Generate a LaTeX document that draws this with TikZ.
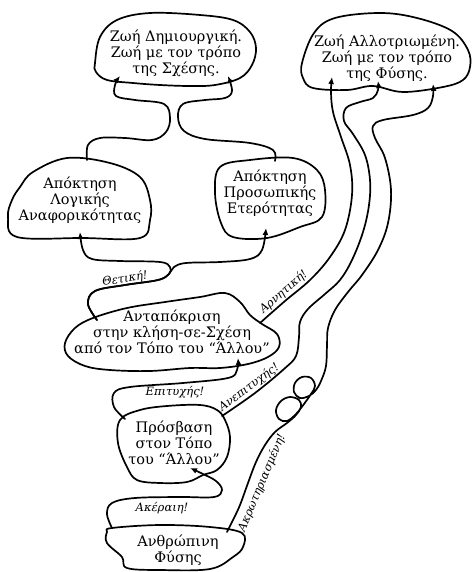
\documentclass[tikz,border=0pt]{standalone}
\usepackage{fontspec}
\setmainfont{DejaVu Serif}
\usetikzlibrary{arrows.meta}
\begin{document}
\begin{tikzpicture}[x=1pt,y=-1pt,line width=1.7pt,line cap=round,line join=round,
  blob/.style={draw,line width=1.7pt},
  txt/.style={align=center,font=\fontsize{14.5}{16}\selectfont,inner sep=0pt},
  lbl/.style={font=\fontsize{11.5}{13}\selectfont\itshape,inner sep=1.5pt},
  conn/.style={draw,line width=1.7pt,-{Latex[length=7pt,width=6pt]}}]
\useasboundingbox (0,0) rectangle (471,572);

% ---------- text nodes ----------
\node[txt] (zd) at (176,53) {Ζωή Δημιουργική.\\Ζωή με τον τρόπο\\της Σχέσης.};
\node[txt] (za) at (387,58) {Ζωή Αλλοτριωμένη.\\Ζωή με τον τρόπο\\της Φύσης.};
\node[txt] (al) at (80,200) {Απόκτηση\\Λογικής\\Αναφορικότητας};
\node[txt] (ap) at (270,193) {Απόκτηση\\Προσωπικής\\Ετερότητας};
\node[txt] (an) at (172,332) {Ανταπόκριση\\στην κλήση-σε-Σχέση\\από τον Τόπο του “Άλλου”};
\node[txt] (pr) at (174,443) {Πρόσβαση\\στον Τόπο\\του “Άλλου”};
\node[txt] (af) at (178,550) {Ανθρώπινη\\Φύσης};

% ---------- blobs ----------
\draw[blob] plot[smooth cycle,tension=0.6] coordinates {(95,63) (100,37) (117,20) (150,13) (200,15) (233,20) (250,32) (256,48) (252,65) (240,78) (215,85) (190,86) (160,85) (133,83) (107,80) (96,72)};
\draw[blob] plot[smooth cycle,tension=0.6] coordinates {(302,63) (314,33) (335,18) (380,13) (417,18) (452,31) (468,50) (470,67) (463,80) (443,87) (403,92) (373,86) (347,90) (313,88) (303,78)};
\draw[blob] plot[smooth cycle,tension=0.6] coordinates {(20,187) (33,172) (67,158) (110,163) (140,177) (150,200) (150,220) (140,238) (83,238) (17,237) (8,217) (12,200)};
\draw[blob] plot[smooth cycle,tension=0.6] coordinates {(220,167) (250,160) (293,158) (317,170) (325,190) (322,217) (300,227) (267,238) (233,237) (221,223) (215,193)};
\draw[blob] plot[smooth cycle,tension=0.6] coordinates {(65,343) (75,328) (93,318) (127,308) (165,302) (200,297) (225,293) (240,302) (250,315) (262,324) (277,334) (279,347) (268,357) (248,364) (220,368) (190,368) (150,371) (110,370) (85,366) (68,356)};
\draw[blob] plot[smooth cycle,tension=0.6] coordinates {(120,420) (140,410) (167,406) (200,405) (217,410) (225,420) (230,437) (227,457) (217,470) (203,475) (187,482) (160,483) (137,480) (127,467) (118,443)};
\draw[blob] plot[smooth cycle,tension=0.6] coordinates {(112,528) (160,525) (210,527) (242,533) (243,547) (233,557) (210,569) (160,570) (127,568) (122,557) (107,543) (107,532)};

% ---------- connector end points ----------
\coordinate (alTop) at (87,160);
\coordinate (apTop) at (275,161);
\coordinate (zdIn1) at (120,76);
\coordinate (zdIn2) at (228,76);
\coordinate (alIn) at (80,232);
\coordinate (apIn) at (266,228);
\coordinate (anOut) at (97,320);
\coordinate (anNeg) at (260,323);
\coordinate (anIn) at (238,358);
\coordinate (prOut) at (125,419);
\coordinate (prFail) at (222,416);
\coordinate (prIn) at (190,468);
\coordinate (afOut) at (112,528);
\coordinate (afCut) at (227,532);
\coordinate (zaIn1) at (332,77);
\coordinate (zaIn2) at (378,81);
\coordinate (zaIn3) at (433,84);

% ---------- connectors ----------
\draw[conn] plot[smooth,tension=0.6] coordinates {(alTop) (88,145) (100,138) (125,138) (152,140) (166,132) (170,118) (164,104) (135,100) (116,96) (115,85) (zdIn1)};
\draw[conn] plot[smooth,tension=0.6] coordinates {(apTop) (273,150) (250,143) (205,139) (184,131) (178,117) (183,104) (205,100) (225,98) (232,91) (zdIn2)};
\draw[conn] plot[smooth,tension=0.6] coordinates {(anOut) (88,304) (95,291) (125,285) (158,280) (169,274) (170,267) (160,262) (120,261) (92,259) (83,250) (alIn)};
\draw[conn] plot[smooth,tension=0.6] coordinates {(anOut) (88,304) (95,291) (125,285) (158,280) (169,274) (174,267) (186,263) (220,262) (250,259) (262,250) (apIn)};
\draw[conn] plot[smooth,tension=0.6] coordinates {(anNeg) (285,301) (310,280) (330,257) (345,230) (352,195) (350,165) (341,137) (333,112) (331,92) (zaIn1)};
\draw[conn] plot[smooth,tension=0.6] coordinates {(prFail) (255,393) (284,369) (296,356) (299,337) (300,322) (308,309) (325,294) (340,280) (352,260) (363,232) (369,205) (370,180) (365,155) (353,134) (344,121) (346,108) (360,102) (373,98) (378,90) (zaIn2)};
\draw[conn] plot[smooth,tension=0.6] coordinates {(afCut) (233,520) (240,505) (248,483) (256,462) (265,445) (275,432) (287,423) (296,415) (301,407) (299,400) (290,397) (281,401) (276,410) (279,419) (287,421) (296,414) (304,404) (311,394) (315,386) (311,378) (302,377) (295,383) (294,392) (300,398) (309,396) (316,390) (321,381) (326,366) (327,345) (328,328) (335,310) (348,292) (362,275) (378,250) (388,223) (391,190) (385,158) (375,138) (373,126) (383,120) (413,115) (428,108) (433,96) (zaIn3)};
\draw[conn] plot[smooth,tension=0.6] coordinates {(prOut) (114,407) (114,393) (130,387) (183,383) (228,378) (237,370) (anIn)};
\draw[conn] plot[smooth,tension=0.6] coordinates {(afOut) (107,514) (112,503) (135,498) (180,497) (214,497) (222,490) (216,481) (203,474) (prIn)};

% ---------- labels ----------
\node[lbl,rotate=8] (lThet) at (125,279) {Θετική!};
\node[lbl,rotate=41,anchor=south] (lArn) at (289,298) {Αρνητική!};
\node[lbl] (lEpi) at (175,392) {Επιτυχής!};
\node[lbl,rotate=37,anchor=south] (lAnep) at (254,394) {Ανεπιτυχής!};
\node[lbl] (lAker) at (162,508) {Ακέραιη!};
\node[lbl,rotate=67,anchor=north,inner sep=3pt] (lAkr) at (253,479) {Ακρωτηριασμένη!};
\end{tikzpicture}
\end{document}
